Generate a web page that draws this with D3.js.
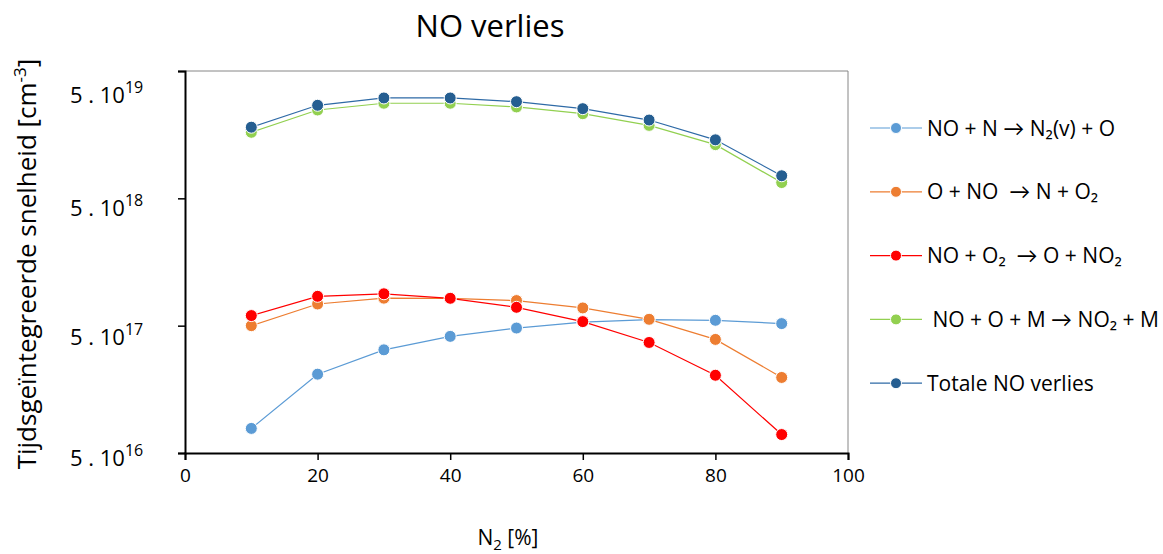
<!DOCTYPE html>
<html>
<head>
<meta charset="utf-8">
<script src="https://cdn.jsdelivr.net/npm/d3@7/dist/d3.min.js"></script>
<style>
  html, body { margin: 0; padding: 0; background: #fff; }
  svg { display: block; font-family: "Open Sans", Lato, sans-serif; }
</style>
</head>
<body>
<svg id="chart" width="1163" height="554"></svg>
<script>
// N2 fraction [%]
const n2Percent = [10, 20, 30, 40, 50, 60, 70, 80, 90];

// Time-integrated loss rates of NO per reaction [cm^-3]
const rateNplusNO   = [7.8e16, 2.08e17, 3.23e17, 4.12e17, 4.79e17, 5.34e17, 5.58e17, 5.51e17, 5.19e17];
const rateOplusNO   = [5.0e17, 7.4e17, 8.22e17, 8.2e17, 7.87e17, 6.89e17, 5.61e17, 3.9e17, 1.96e17];
const rateNOplusO2  = [6.0e17, 8.5e17, 8.9e17, 8.2e17, 6.97e17, 5.38e17, 3.69e17, 2.04e17, 6.98e16];
const rateNOplusOM  = [1.65e19, 2.47e19, 2.79e19, 2.79e19, 2.61e19, 2.31e19, 1.87e19, 1.32e19, 6.65e18];
const rateTotal     = [1.81e19, 2.69e19, 3.07e19, 3.07e19, 2.87e19, 2.53e19, 2.06e19, 1.44e19, 7.52e18];

const seriesNames = [
  "NO + N \u2192 N\u2082(v) + O",
  "O + NO \u00a0\u2192 N + O\u2082",
  "NO + O\u2082 \u00a0\u2192 O + NO\u2082",
  "\u00a0NO + O + M \u2192 NO\u2082 + M",
  "Totale NO verlies"
];

const xTicks = [0, 20, 40, 60, 80, 100];
const yTicks = [5e16, 5e17, 5e18, 5e19];

const series = [
  { name: seriesNames[0], values: rateNplusNO,  line: "#5B9BD5", dot: "#5B9BD5" },
  { name: seriesNames[1], values: rateOplusNO,  line: "#ED7D31", dot: "#ED7D31" },
  { name: seriesNames[2], values: rateNOplusO2, line: "#FF0000", dot: "#FF0000" },
  { name: seriesNames[3], values: rateNOplusOM, line: "#92D050", dot: "#92D050" },
  { name: seriesNames[4], values: rateTotal,    line: "#2E6AA6", dot: "#255E91" }
];

const svg = d3.select("#chart");
const plot = { left: 185, right: 848, top: 71, bottom: 453 };

const x = d3.scaleLinear().domain([0, 100]).range([plot.left, plot.right]);
const y = d3.scaleLog().domain([5e16, 5e19]).range([plot.bottom, plot.top]);

// Frame: thin grey on top and right
svg.append("path")
  .attr("d", `M${plot.left},${plot.top}H${plot.right}V${plot.bottom}`)
  .attr("fill", "none").attr("stroke", "#868686").attr("stroke-width", 1);

// X axis
const xAxis = svg.append("g")
  .attr("transform", `translate(0,${plot.bottom})`)
  .call(d3.axisBottom(x).tickValues(xTicks).tickSize(7).tickPadding(9));
xAxis.select(".domain").attr("stroke", "#000").attr("stroke-width", 2);
xAxis.selectAll(".tick line").attr("stroke", "#000").attr("stroke-width", 1.5);
xAxis.selectAll(".tick text")
  .attr("font-family", "'Open Sans', sans-serif").attr("font-size", 19).attr("fill", "#000");

// Y axis (labels drawn separately as 5 . 10^n)
const yAxis = svg.append("g")
  .attr("transform", `translate(${plot.left},0)`)
  .call(d3.axisLeft(y).tickValues(yTicks).tickSize(7).tickFormat(""));
yAxis.select(".domain").attr("stroke", "#000").attr("stroke-width", 2);
yAxis.selectAll(".tick line").attr("stroke", "#000").attr("stroke-width", 1.5);

const labelNudge = [5, 11, 10, 24];
const yLabels = svg.append("g")
  .attr("font-family", "'Open Sans', sans-serif")
  .attr("font-size", 22).attr("fill", "#000");
yTicks.forEach((t, i) => {
  const exp = Math.round(Math.log10(t / 5));
  const txt = yLabels.append("text")
    .attr("x", 70).attr("y", y(t) + labelNudge[i] + 8);
  txt.append("tspan").text("5 . 10");
  txt.append("tspan").attr("dy", -10).attr("font-size", 16).text(exp);
});

// Lines and markers
const line = d3.line()
  .x((d, i) => x(n2Percent[i]))
  .y(d => y(d));

const seriesG = svg.append("g");
series.forEach(s => {
  seriesG.append("path")
    .attr("d", line(s.values))
    .attr("fill", "none").attr("stroke", s.line).attr("stroke-width", 1.2);
});
series.forEach(s => {
  seriesG.append("g").selectAll("circle")
    .data(s.values).join("circle")
    .attr("cx", (d, i) => x(n2Percent[i]))
    .attr("cy", d => y(d))
    .attr("r", 6)
    .attr("fill", s.dot).attr("stroke", "#fff").attr("stroke-width", 1);
});

// Title
svg.append("text")
  .attr("x", 490).attr("y", 37)
  .attr("text-anchor", "middle").attr("font-size", 31).attr("fill", "#000")
  .text("NO verlies");

// X axis title: N2 [%]
const xTitle = svg.append("text")
  .attr("x", 508).attr("y", 545)
  .attr("text-anchor", "middle").attr("font-size", 21).attr("fill", "#000");
xTitle.append("tspan").text("N");
xTitle.append("tspan").attr("dy", 5).attr("font-size", 15).text("2");
xTitle.append("tspan").attr("dy", -5).text(" [%]");

// Y axis title
const yTitle = svg.append("text")
  .attr("transform", "translate(36,264) rotate(-90)")
  .attr("text-anchor", "middle").attr("font-size", 26).attr("fill", "#000");
yTitle.append("tspan").text("Tijdsge\u00efntegreerde snelheid [cm");
yTitle.append("tspan").attr("dy", -10).attr("font-size", 17).text("-3");
yTitle.append("tspan").attr("dy", 10).text("]");

// Legend
const legend = svg.append("g");
series.forEach((s, i) => {
  const ly = 128 + i * 63.8;
  const g = legend.append("g").attr("transform", `translate(0,${ly})`);
  g.append("line").attr("x1", 870).attr("x2", 922).attr("y1", 0).attr("y2", 0)
    .attr("stroke", s.line).attr("stroke-width", 1.2);
  g.append("circle").attr("cx", 896).attr("cy", 0).attr("r", 5.5)
    .attr("fill", s.dot).attr("stroke", "#fff").attr("stroke-width", 1);
  g.append("text").attr("x", 927).attr("y", 7.5)
    .attr("font-size", 21).attr("fill", "#000").text(s.name);
});
</script>
</body>
</html>
